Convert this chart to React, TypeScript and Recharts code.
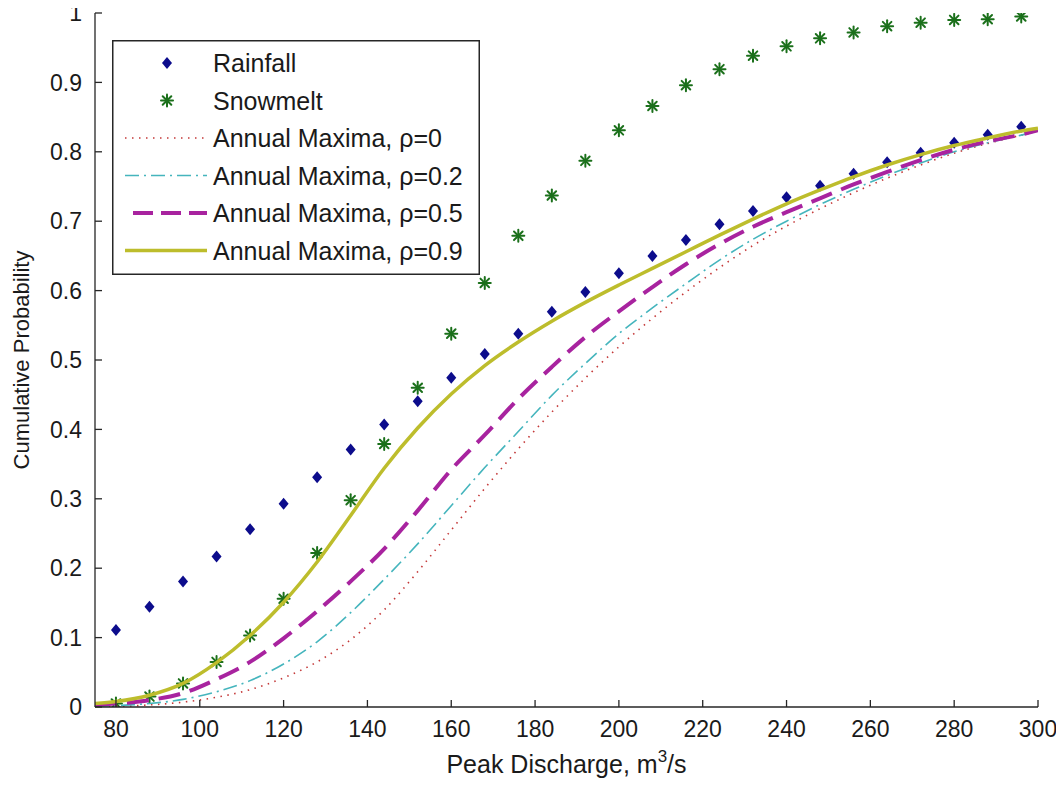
import React from 'react';
import { ComposedChart, Line, Scatter, XAxis, YAxis, Legend } from 'recharts';

const FONT = '"Liberation Sans", Arial, Helvetica, sans-serif';
const TEXT = '#1a1a1a';
const AXIS = '#262626';

// sample (empirical) x positions, m3/s
const sampleX = [80, 88, 96, 104, 112, 120, 128, 136, 144, 152, 160, 168, 176, 184, 192, 200, 208, 216, 224, 232, 240, 248, 256, 264, 272, 280, 288, 296];
const rainfall = [0.111, 0.1445, 0.181, 0.217, 0.256, 0.293, 0.331, 0.371, 0.407, 0.4405, 0.4745, 0.5086, 0.538, 0.5696, 0.598, 0.625, 0.65, 0.673, 0.6955, 0.7147, 0.7344, 0.751, 0.7685, 0.785, 0.7988, 0.813, 0.8247, 0.836];
const snowmelt = [0.005, 0.015, 0.034, 0.065, 0.103, 0.156, 0.222, 0.298, 0.379, 0.46, 0.538, 0.611, 0.679, 0.737, 0.787, 0.831, 0.866, 0.896, 0.919, 0.9385, 0.952, 0.9635, 0.972, 0.981, 0.986, 0.99, 0.991, 0.995];

// annual maxima curves
const curveX = [75, 80, 88, 96, 104, 112, 120, 128, 136, 144, 152, 160, 168, 176, 184, 192, 200, 208, 216, 224, 232, 240, 248, 256, 264, 272, 280, 288, 296, 300];
const rho0 = [0.001, 0.001, 0.003, 0.007, 0.014, 0.025, 0.042, 0.065, 0.097, 0.14, 0.195, 0.255, 0.315, 0.372, 0.425, 0.474, 0.519, 0.56, 0.598, 0.633, 0.665, 0.693, 0.718, 0.741, 0.762, 0.781, 0.798, 0.812, 0.824, 0.83];
const rho02 = [0.001, 0.002, 0.005, 0.011, 0.022, 0.038, 0.062, 0.094, 0.136, 0.184, 0.235, 0.29, 0.345, 0.397, 0.449, 0.495, 0.538, 0.575, 0.61, 0.644, 0.674, 0.7, 0.724, 0.746, 0.766, 0.784, 0.8, 0.813, 0.824, 0.83];
const rho05 = [0.003, 0.005, 0.01, 0.02, 0.04, 0.065, 0.099, 0.138, 0.181, 0.228, 0.283, 0.342, 0.392, 0.444, 0.49, 0.533, 0.57, 0.605, 0.638, 0.667, 0.692, 0.713, 0.733, 0.753, 0.771, 0.788, 0.803, 0.815, 0.825, 0.831];
const rho09 = [0.005, 0.008, 0.017, 0.034, 0.064, 0.103, 0.151, 0.209, 0.276, 0.344, 0.402, 0.451, 0.492, 0.526, 0.556, 0.583, 0.608, 0.632, 0.656, 0.68, 0.703, 0.725, 0.745, 0.764, 0.781, 0.796, 0.809, 0.82, 0.83, 0.834];

const xTicks = [80, 100, 120, 140, 160, 180, 200, 220, 240, 260, 280, 300];
const yTicks = [0, 0.1, 0.2, 0.3, 0.4, 0.5, 0.6, 0.7, 0.8, 0.9, 1];

const seriesNames = ['Rainfall', 'Snowmelt', 'Annual Maxima, \u03c1=0', 'Annual Maxima, \u03c1=0.2', 'Annual Maxima, \u03c1=0.5', 'Annual Maxima, \u03c1=0.9'];

const COLORS = {
  rain: '#0c0c8c',
  snow: '#1b701b',
  r0: '#c43838',
  r02: '#45b5bd',
  r05: '#a8239f',
  r09: '#bdbd2c',
};

const toPoints = (xs: number[], ys: number[]) => xs.map((x, i) => ({ x, y: ys[i] }));

const rainData = toPoints(sampleX, rainfall);
const snowData = toPoints(sampleX, snowmelt);
const r0Data = toPoints(curveX, rho0);
const r02Data = toPoints(curveX, rho02);
const r05Data = toPoints(curveX, rho05);
const r09Data = toPoints(curveX, rho09);

const DiamondGlyph = ({ cx, cy }: { cx: number; cy: number }) => (
  <polygon points={`${cx},${cy - 6} ${cx + 5},${cy} ${cx},${cy + 6} ${cx - 5},${cy}`} fill={COLORS.rain} />
);

const StarGlyph = ({ cx, cy }: { cx: number; cy: number }) => {
  const r = 6;
  const d = 4.3;
  return (
    <g stroke={COLORS.snow} strokeWidth={2} strokeLinecap="round">
      <line x1={cx} y1={cy - r} x2={cx} y2={cy + r} />
      <line x1={cx - r} y1={cy} x2={cx + r} y2={cy} />
      <line x1={cx - d} y1={cy - d} x2={cx + d} y2={cy + d} />
      <line x1={cx - d} y1={cy + d} x2={cx + d} y2={cy - d} />
    </g>
  );
};

const diamondShape = (p: any) => <DiamondGlyph cx={p.cx} cy={p.cy} />;
const starShape = (p: any) => <StarGlyph cx={p.cx} cy={p.cy} />;

const LegendBox = () => {
  const W = 368;
  const H = 235;
  const rowY = (i: number) => 23 + i * 37.5;
  const x0 = 13;
  const x1 = 95;
  const mx = 55;
  return (
    <svg width={W} height={H} style={{ display: 'block' }}>
      <rect x={0.75} y={0.75} width={W - 1.5} height={H - 1.5} fill="#fff" stroke={AXIS} strokeWidth={1.5} />
      <DiamondGlyph cx={mx} cy={rowY(0)} />
      <StarGlyph cx={mx} cy={rowY(1)} />
      <line x1={x0} y1={rowY(2)} x2={x1} y2={rowY(2)} stroke={COLORS.r0} strokeWidth={1.6} strokeDasharray="1.5 5.5" />
      <line x1={x0} y1={rowY(3)} x2={x1} y2={rowY(3)} stroke={COLORS.r02} strokeWidth={1.6} strokeDasharray="14 5 2 5" />
      <line x1={x0 + 8} y1={rowY(4)} x2={x1} y2={rowY(4)} stroke={COLORS.r05} strokeWidth={4} strokeDasharray="20 8" />
      <line x1={x0} y1={rowY(5)} x2={x1} y2={rowY(5)} stroke={COLORS.r09} strokeWidth={3.5} />
      {seriesNames.map((name, i) => (
        <text key={name} x={101} y={rowY(i)} dy="0.36em" fontSize={25} fontFamily={FONT} fill={TEXT}>
          {name}
        </text>
      ))}
    </svg>
  );
};

const emptyTick = () => <g />;

const XLabel = (props: any) => {
  const vb = props.viewBox || {};
  const cx = vb.x + vb.width / 2;
  const by = vb.y + 66;
  return (
    <text x={cx} y={by} textAnchor="middle" fontSize={25} fontFamily={FONT} fill={TEXT}>
      <tspan>Peak Discharge, m</tspan>
      <tspan dy={-11} fontSize={17}>3</tspan>
      <tspan dy={11}>/s</tspan>
    </text>
  );
};

const YLabel = (props: any) => {
  const vb = props.viewBox || {};
  const cx = vb.x + 13;
  const cy = vb.y + vb.height / 2;
  return (
    <text x={cx} y={cy} transform={`rotate(-90, ${cx}, ${cy})`} textAnchor="middle" dy="0.36em" fontSize={22} fontFamily={FONT} fill={TEXT}>
      Cumulative Probability
    </text>
  );
};

const tickStyle = { fontSize: 23, fontFamily: FONT, fill: TEXT };

export default function App() {
  return (
    <div style={{ width: 1048, height: 780, marginTop: -8, fontFamily: FONT }}>
      <ComposedChart width={1048} height={780} margin={{ top: 13, right: 18, bottom: 0, left: 0 }}>
        <XAxis
          xAxisId="bottom"
          dataKey="x"
          type="number"
          domain={[75, 300]}
          allowDataOverflow
          ticks={xTicks}
          interval={0}
          height={73}
          tickSize={-7}
          tickMargin={21}
          tick={tickStyle}
          stroke={AXIS}
          axisLine={{ stroke: AXIS, strokeWidth: 1.3 }}
          tickLine={{ stroke: AXIS, strokeWidth: 1.3 }}
          label={<XLabel />}
        />
        <XAxis
          xAxisId="top"
          orientation="top"
          dataKey="x"
          type="number"
          domain={[75, 300]}
          allowDataOverflow
          ticks={xTicks}
          interval={0}
          height={0}
          tickSize={-7}
          tick={emptyTick}
          axisLine={{ stroke: AXIS, strokeWidth: 1.3 }}
          tickLine={{ stroke: AXIS, strokeWidth: 1.3 }}
        />
        <YAxis
          yAxisId="left"
          type="number"
          domain={[0, 1]}
          allowDataOverflow
          ticks={yTicks}
          interval={0}
          width={87}
          tickSize={-7}
          tickMargin={20}
          tick={tickStyle}
          axisLine={{ stroke: AXIS, strokeWidth: 1.3 }}
          tickLine={{ stroke: AXIS, strokeWidth: 1.3 }}
          label={<YLabel />}
        />
        <YAxis
          yAxisId="right"
          orientation="right"
          type="number"
          domain={[0, 1]}
          allowDataOverflow
          ticks={yTicks}
          interval={0}
          width={0}
          tickSize={-7}
          tick={emptyTick}
          axisLine={{ stroke: AXIS, strokeWidth: 1.3 }}
          tickLine={{ stroke: AXIS, strokeWidth: 1.3 }}
        />
        <Legend
          layout="vertical"
          align="center"
          verticalAlign="middle"
          content={() => <LegendBox />}
          wrapperStyle={{ left: 104, top: 40, width: 368, height: 235 }}
        />
        <Scatter
          name={seriesNames[0]}
          xAxisId="bottom"
          yAxisId="left"
          data={rainData}
          dataKey="y"
          shape={diamondShape}
          isAnimationActive={false}
          zIndex={350}
        />
        <Scatter
          name={seriesNames[1]}
          xAxisId="bottom"
          yAxisId="left"
          data={snowData}
          dataKey="y"
          shape={starShape}
          isAnimationActive={false}
          zIndex={350}
        />
        <Line
          name={seriesNames[2]}
          xAxisId="bottom"
          yAxisId="left"
          data={r0Data}
          dataKey="y"
          type="monotone"
          stroke={COLORS.r0}
          strokeWidth={1.6}
          strokeDasharray="1.5 5.5"
          dot={false}
          activeDot={false}
          isAnimationActive={false}
        />
        <Line
          name={seriesNames[3]}
          xAxisId="bottom"
          yAxisId="left"
          data={r02Data}
          dataKey="y"
          type="monotone"
          stroke={COLORS.r02}
          strokeWidth={1.6}
          strokeDasharray="14 5 2 5"
          dot={false}
          activeDot={false}
          isAnimationActive={false}
        />
        <Line
          name={seriesNames[4]}
          xAxisId="bottom"
          yAxisId="left"
          data={r05Data}
          dataKey="y"
          type="monotone"
          stroke={COLORS.r05}
          strokeWidth={4}
          strokeDasharray="22 10"
          dot={false}
          activeDot={false}
          isAnimationActive={false}
        />
        <Line
          name={seriesNames[5]}
          xAxisId="bottom"
          yAxisId="left"
          data={r09Data}
          dataKey="y"
          type="monotone"
          stroke={COLORS.r09}
          strokeWidth={3.5}
          dot={false}
          activeDot={false}
          isAnimationActive={false}
        />
      </ComposedChart>
    </div>
  );
}
